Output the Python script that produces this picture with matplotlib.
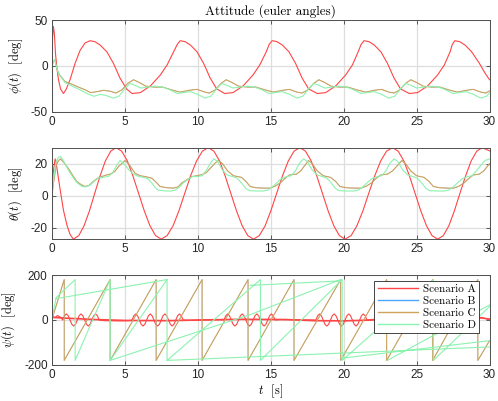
import numpy as np
import matplotlib
matplotlib.use("Agg")
import matplotlib.pyplot as plt

plt.rcParams['mathtext.fontset'] = 'cm'
plt.rcParams['axes.unicode_minus'] = False

# ---- roll phi(t) [deg] ----
phi_a_t = [0, 0.05, 0.11, 0.18, 0.25, 0.35, 0.46, 0.6, 0.8, 1.0, 1.25, 1.6, 1.94, 2.28, 2.62,
           2.95, 3.31, 3.77, 4.22, 4.67, 5.12, 5.5,
           6.07, 6.76, 7.44, 7.9, 8.35, 8.6, 8.8,
           9.13, 9.5, 9.95, 10.4, 10.85, 11.3, 11.85,
           12.42, 13.11, 13.79, 14.25, 14.7, 14.9, 15.1,
           15.43, 15.8, 16.25, 16.7, 17.15, 17.6, 18.2,
           18.77, 19.46, 20.14, 20.6, 21.0, 21.2, 21.4,
           21.73, 22.1, 22.55, 23.0, 23.45, 23.9, 24.5,
           25.07, 25.76, 26.44, 26.9, 27.3, 27.45, 27.62,
           27.95, 28.32, 28.77, 29.3, 29.7, 30.0]
phi_a = [0, 30, 43, 35, 14, -2, -15, -25, -30, -25, -15, 3, 17, 25, 27.5,
         26.5, 22.8, 15.5, 3, -13, -25, -30,
         -29, -21.7, -9.8, 1, 15.5, 23.5, 27.5,
         26.5, 22.8, 15.5, 3, -13, -25, -30,
         -29, -21.7, -9.8, 1, 15.5, 23.5, 27.5,
         26.5, 22.8, 15.5, 3, -13, -25, -30,
         -29, -21.7, -9.8, 1, 15.5, 23.5, 27.5,
         26.5, 22.8, 15.5, 3, -13, -25, -30,
         -29, -21.7, -9.8, 1, 15.5, 23.5, 27.5,
         26.5, 22.8, 15.5, 3, -8, -15]

phi_c_t = [0, 0.12, 0.22, 0.34, 0.5, 0.91, 1.4, 1.82, 2.3, 2.65, 3.1, 3.55, 4.0, 4.4, 4.8, 5.2,
           5.6, 6.0, 6.45, 7.0, 7.6, 8.2, 8.8, 9.4, 9.95, 10.5, 10.8, 11.2, 11.6,
           11.95, 12.35, 12.8, 13.4, 14.0, 14.6, 15.2, 15.8, 16.3, 16.8, 17.15, 17.55, 17.95,
           18.3, 18.7, 19.15, 19.7, 20.3, 20.9, 21.5, 22.1, 22.6, 23.1, 23.45, 23.85, 24.25,
           24.6, 25.0, 25.45, 26.0, 26.6, 27.2, 27.8, 28.4, 28.9, 29.4, 29.75, 30.0]
phi_c = [0, 5, 7, -3, -9, -17, -20, -23, -26, -29, -28, -26.5, -27.5, -29.5, -26, -19,
         -15, -18, -22, -23, -23, -26, -28.5, -26.5, -25.5, -28.5, -29.5, -26, -19,
         -15, -18, -22, -23, -23, -26, -28.5, -26.5, -25.5, -28.5, -29.5, -26, -19,
         -15, -18, -22, -23, -23, -26, -28.5, -26.5, -25.5, -28.5, -29.5, -26, -19,
         -15, -18, -22, -23, -23, -26, -28.5, -26.5, -25.5, -28.5, -29.5, -27]

phi_d_t = [0, 0.12, 0.2, 0.3, 0.45, 0.9, 1.4, 1.94, 2.4, 2.9, 3.3, 3.7, 4.2, 4.6, 5.0,
           5.35, 5.7, 6.1, 6.6, 7.1, 7.6, 8.1, 8.6, 9.0, 9.5, 10.0, 10.5, 10.9, 11.3,
           11.65, 12.0, 12.4, 12.9, 13.4, 13.9, 14.4, 14.9, 15.3, 15.8, 16.3, 16.8, 17.2, 17.6,
           17.95, 18.3, 18.7, 19.2, 19.7, 20.2, 20.7, 21.2, 21.6, 22.1, 22.6, 23.1, 23.5, 23.9,
           24.25, 24.6, 25.0, 25.5, 26.0, 26.5, 27.0, 27.5, 27.9, 28.4, 28.9, 29.4, 29.8, 30.0]
phi_d = [0, 5, 7, 0, -8, -18, -22, -26, -30, -33, -31, -32, -35, -33, -25,
         -19, -21, -24, -23, -22, -23, -26, -30, -29, -28, -31, -35, -33, -25,
         -19, -21, -24, -23, -22, -23, -26, -30, -29, -28, -31, -35, -33, -25,
         -19, -21, -24, -23, -22, -23, -26, -30, -29, -28, -31, -35, -33, -25,
         -19, -21, -24, -23, -22, -23, -26, -30, -29, -28, -31, -35, -33, -29]

# ---- pitch theta(t) [deg] ----
theta_a_t = [0, 0.1, 0.23, 0.34, 0.57, 0.8, 1.03, 1.25, 1.48,
             1.85, 2.21, 2.58, 2.94, 3.31, 3.67, 4.04, 4.4,
             4.79, 5.18, 5.56, 5.95, 6.34, 6.73, 7.11, 7.5,
             7.9, 8.31, 8.71, 9.11, 9.51, 9.92, 10.32, 10.72,
             11.11, 11.5, 11.88, 12.27, 12.66, 13.05, 13.43, 13.82,
             14.22, 14.62, 15.01, 15.41, 15.81, 16.21, 16.6, 17.0,
             17.39, 17.78, 18.16, 18.55, 18.94, 19.33, 19.71, 20.1,
             20.51, 20.91, 21.32, 21.72, 22.13, 22.54, 22.94, 23.35,
             23.74, 24.13, 24.51, 24.9, 25.29, 25.68, 26.06, 26.45,
             26.83, 27.21, 27.59, 27.97, 28.36, 28.74, 29.12, 29.5, 30.0]
theta_a = [3.75, 15, 23, 18, 4, -9, -18, -24, -27,
           -24.8, -18.7, -9.4, 1.5, 12.4, 21.7, 27.8, 30,
           27.8, 21.7, 12.4, 1.5, -9.4, -18.7, -24.8, -27,
           -24.8, -18.7, -9.4, 1.5, 12.4, 21.7, 27.8, 30,
           27.8, 21.7, 12.4, 1.5, -9.4, -18.7, -24.8, -27,
           -24.8, -18.7, -9.4, 1.5, 12.4, 21.7, 27.8, 30,
           27.8, 21.7, 12.4, 1.5, -9.4, -18.7, -24.8, -27,
           -24.8, -18.7, -9.4, 1.5, 12.4, 21.7, 27.8, 30,
           27.8, 21.7, 12.4, 1.5, -9.4, -18.7, -24.8, -27,
           -24.8, -18.7, -9.4, 1.5, 12.4, 21.7, 27.8, 30, 28]

theta_c_t = [0, 0.15, 0.3, 0.46, 0.6, 0.8, 1.14, 1.45, 1.71, 2.0, 2.28, 2.55, 2.85, 3.15, 3.43,
             3.75, 4.0, 4.3, 4.6, 5.02, 5.3, 5.71, 6.05, 6.4, 6.85, 7.15, 7.42, 7.9, 8.33,
             8.65, 8.9, 9.25, 9.6, 9.95, 10.3, 10.6, 10.9, 11.2, 11.42, 11.7, 12.05, 12.45,
             13.0, 13.3, 13.6, 14.0, 14.5, 14.96, 15.3, 15.65, 16.0, 16.3, 16.76, 17.05,
             17.35, 17.59, 17.85, 18.2, 18.6, 19.1, 19.45, 19.75, 20.2, 20.7, 21.2, 21.55,
             21.9, 22.25, 22.55, 23.0, 23.35, 23.7, 23.99, 24.25, 24.6, 25.0, 25.5, 25.85,
             26.15, 26.6, 27.1, 27.55, 27.9, 28.25, 28.6, 28.9, 29.3, 29.6, 30.0]
theta_c = [0, 10, 19, 22, 23, 21, 17, 12.5, 9, 7, 5.8, 6.5, 9, 11, 12,
           13, 13.5, 15, 18.5, 22, 19.5, 14, 12.5, 12, 11, 8.5, 5.8, 5, 4.8,
           5.5, 7.9, 10, 12, 12.5, 13.2, 14.5, 17.5, 20.5, 22, 20, 15.5, 12.5,
           11.5, 9, 5.8, 5, 4.8, 4.8, 6, 8, 11, 13, 13.5, 15.5,
           19, 22, 20, 15.5, 12.5, 11.5, 9, 5.8, 5, 4.8, 4.8, 6,
           8, 11, 13, 13.5, 15.5, 19, 22, 20, 15.5, 12.5, 11.5, 9,
           5.8, 5, 4.8, 4.8, 6, 8, 11, 13, 13.5, 15.5, 20]

theta_d_t = [0, 0.12, 0.28, 0.45, 0.6, 0.85, 1.14, 1.45, 1.75, 2.05, 2.3, 2.6, 2.9, 3.2, 3.5,
             3.85, 4.15, 4.45, 4.68, 4.95, 5.3, 5.6, 5.95, 6.3, 6.6, 6.85, 7.1, 7.3, 7.8,
             8.2, 8.45, 8.75, 9.0, 9.3, 9.65, 10.0, 10.3, 10.6, 10.85, 11.1, 11.35, 11.7,
             12.0, 12.4, 12.7, 13.0, 13.3, 13.55, 14.0, 14.5, 14.8, 15.1, 15.4, 15.7, 16.1,
             16.4, 16.7, 16.95, 17.25, 17.5, 17.85, 18.2, 18.55, 18.85, 19.15, 19.45, 19.7,
             20.2, 20.7, 21.0, 21.3, 21.6, 21.9, 22.3, 22.6, 22.9, 23.15, 23.45, 23.7, 24.05,
             24.4, 24.75, 25.05, 25.35, 25.65, 25.9, 26.4, 26.9, 27.2, 27.5, 27.8, 28.1,
             28.5, 28.8, 29.1, 29.4, 29.7, 30.0]
theta_d = [0, 10, 21, 24, 24.5, 21, 16, 11.5, 8, 6, 5.5, 6.5, 9, 11, 11.5,
           12, 14, 19, 22, 20, 16, 13.5, 12, 11.5, 10.5, 8, 5, 3.5, 3,
           3, 3.5, 5.5, 7.9, 10, 12, 12, 12.5, 16, 20, 23, 21.5, 16,
           13, 12, 11, 8, 4.5, 3.2, 3, 3, 3.5, 5.5, 8, 10.5, 12,
           12.5, 15.5, 20, 23, 21.5, 16, 13, 12, 11, 8, 4.5, 3.2,
           3, 3, 3.5, 5.5, 8, 10.5, 12, 12.5, 15.5, 20, 23, 21.5, 16,
           13, 12, 11, 8, 4.5, 3.2, 3, 3, 3.5, 5.5, 8, 10.5,
           12, 12.5, 15.5, 19, 22, 23]

# ---- yaw psi(t) [deg] ----
psi_a_t = [0, 0.2, 0.4, 0.6,
           0.75, 0.875, 1.0, 1.125, 1.25, 1.375, 1.5, 1.625, 1.75, 1.875, 2.0, 2.125,
           2.25, 2.375, 2.5, 2.625, 2.75, 2.875, 3.0, 3.125, 3.25,
           3.6, 4.5, 5.3,
           5.5, 5.625, 5.75, 5.875, 6.0, 6.125, 6.25, 6.375, 6.5, 6.625, 6.75, 6.875,
           7.0, 7.125, 7.25, 7.375, 7.5, 7.625, 7.75, 7.875, 8.0, 8.125, 8.25, 8.375,
           8.5, 8.625, 8.75, 8.875, 9.0,
           9.4, 10.5, 11.6,
           11.8, 11.925, 12.05, 12.175, 12.3, 12.425, 12.55, 12.675, 12.8, 12.925, 13.05,
           13.175, 13.3, 13.425, 13.55, 13.675, 13.8, 13.925, 14.05, 14.175, 14.3, 14.425,
           14.55, 14.675, 14.8, 14.925, 15.05, 15.175, 15.3,
           15.7, 17.0, 17.9,
           18.1, 18.225, 18.35, 18.475, 18.6, 18.725, 18.85, 18.975, 19.1, 19.225, 19.35,
           19.475, 19.6, 19.725, 19.85, 19.975, 20.1, 20.225, 20.35, 20.475, 20.6, 20.725,
           20.85, 20.975, 21.1, 21.225, 21.35, 21.475, 21.6,
           22.0, 23.2, 24.2,
           24.4, 24.525, 24.65, 24.775, 24.9, 25.025, 25.15, 25.275, 25.4, 25.525, 25.65,
           25.775, 25.9, 26.025, 26.15, 26.275, 26.4, 26.525, 26.65, 26.775, 26.9, 27.025,
           27.15, 27.275, 27.4, 27.525, 27.65, 27.775, 27.9,
           28.3, 29.2, 30.0]
psi_a = [18, 10, 20, 12,
         0, 19, 27, 19, 0, -19, -27, -19, 0, 19, 27, 19,
         0, -19, -27, -19, 0, 19, 27, 19, 0,
         -3, -4, -3,
         0, 19, 27, 19, 0, -19, -27, -19, 0, 19, 27, 19,
         0, -19, -27, -19, 0, 19, 27, 19, 0, -19, -27, -19,
         0, 19, 27, 19, 0,
         -2, 0, 1,
         0, 19, 27, 19, 0, -19, -27, -19, 0, 19, 27,
         19, 0, -19, -27, -19, 0, 19, 27, 19, 0, -19,
         -27, -19, 0, 19, 27, 19, 0,
         2, 1, 0,
         0, 19, 27, 19, 0, -19, -27, -19, 0, 19, 27,
         19, 0, -19, -27, -19, 0, 19, 27, 19, 0, -19,
         -27, -19, 0, 19, 27, 19, 0,
         3, 5, 6,
         6, 25, 33, 25, 6, -13, -21, -13, 6, 25, 33,
         25, 6, -13, -21, -13, 6, 25, 33, 25, 6, -13,
         -21, -13, 6, 25, 33, 25, 6,
         8, 10, 5]
psi_a2_t = [0, 1, 3, 5, 8, 10, 13, 16, 18, 20, 22, 25, 28, 29.5, 30]
psi_a2 = [12, 8, 2, -2, -3, 0, 3, 2, -3, -4, 0, 6, 12, 10, 2]

psi_c_t = [0, 0.85, 0.85, 4.0, 4.0, 7.15, 7.15, 10.3, 10.3, 13.45, 13.45, 16.6, 16.6,
           19.8, 19.8, 22.95, 22.95, 26.1, 26.1, 29.2, 29.2, 30.0]
psi_c = [0, 180, -180, 180, -180, 180, -180, 180, -180, 180, -180, 180, -180,
         180, -180, 180, -180, 180, -180, 180, -180, -92]

psi_d_t = [0, 0.3, 1.6, 1.6, 4.0, 4.0, 7.9, 7.9, 14.3, 14.3, 19.9, 19.9, 26.15, 26.15, 30.0,
           np.nan, 0.3, 7.9, np.nan, 4.0, 13.6, 19.8, np.nan, 7.9, 30.0,
           np.nan, 13.6, 19.7, np.nan, 19.9, 30.0, np.nan, 23.0, 30.0]
psi_d = [0, 100, 180, -180, 180, -180, 180, -180, 180, -180, 180, -180, 180, -180, 60,
         np.nan, 95, 180, np.nan, -180, 24, 180, np.nan, -180, -120,
         np.nan, 154, 174, np.nan, -170, -92, np.nan, -180, 67]

# scenario B coincides with C
phi_b_t, phi_b = phi_c_t, phi_c
theta_b_t, theta_b = theta_c_t, theta_c
psi_b_t, psi_b = psi_c_t, psi_c

labels = ['Scenario A', 'Scenario B', 'Scenario C', 'Scenario D']
colors = ['#ff4545', '#4da6ff', '#cfa35a', '#8cf2b0']

serif = 'cmr10'
tick_font = 'Liberation Sans'

fig = plt.figure(figsize=(4.98, 4.01), dpi=100)
ax1 = fig.add_axes([0.104, 0.721, 0.879, 0.229])
ax2 = fig.add_axes([0.104, 0.404, 0.879, 0.227])
ax3 = fig.add_axes([0.104, 0.090, 0.879, 0.224])

lw = 0.8
lwb = 0.3  # B is hidden under C
ax1.plot(phi_a_t, phi_a, color=colors[0], lw=lw)
ax1.plot(phi_b_t, phi_b, color=colors[1], lw=lwb)
ax1.plot(phi_c_t, phi_c, color=colors[2], lw=lw)
ax1.plot(phi_d_t, phi_d, color=colors[3], lw=lw)

ax2.plot(theta_a_t, theta_a, color=colors[0], lw=lw)
ax2.plot(theta_b_t, theta_b, color=colors[1], lw=lwb)
ax2.plot(theta_c_t, theta_c, color=colors[2], lw=lw)
ax2.plot(theta_d_t, theta_d, color=colors[3], lw=lw)

la, = ax3.plot(psi_a_t, psi_a, color=colors[0], lw=lw)
ax3.plot(psi_a2_t, psi_a2, color=colors[0], lw=1.2)
lb, = ax3.plot(psi_b_t, psi_b, color=colors[1], lw=lwb)
lc, = ax3.plot(psi_c_t, psi_c, color=colors[2], lw=lw)
ld, = ax3.plot(psi_d_t, psi_d, color=colors[3], lw=lw)

ax1.set_ylim(-50, 50)
ax1.set_yticks([-50, 0, 50])
ax2.set_ylim(-26.9, 29.8)
ax2.set_yticks([-20, 0, 20])
ax3.set_ylim(-200, 200)
ax3.set_yticks([-200, 0, 200])

ax1.set_ylabel(r'$\phi(t)$  [deg]', family=serif, fontsize=9)
ax2.set_ylabel(r'$\theta(t)$  [deg]', family=serif, fontsize=9)
ax3.set_ylabel(r'$\psi(t)$  [deg]', family=serif, fontsize=9)
ax3.set_xlabel(r'$t$  [s]', family=serif, fontsize=9, labelpad=1)
ax1.set_title('Attitude (euler angles)', family=serif, fontsize=9.5, pad=4)

for ax in (ax1, ax2, ax3):
    ax.set_xlim(0, 30)
    ax.set_xticks([0, 5, 10, 15, 20, 25, 30])
    ax.grid(True, color='#dedede', lw=0.9)
    ax.set_axisbelow(True)
    ax.tick_params(direction='in', length=3, width=0.6, top=True, right=True,
                   colors='#404040', labelsize=8.5, pad=3)
    for lab in ax.get_xticklabels() + ax.get_yticklabels():
        lab.set_family(tick_font)
        lab.set_color('#262626')
    for sp in ax.spines.values():
        sp.set_color('#505050')
        sp.set_linewidth(0.7)

leg = ax3.legend([la, lb, lc, ld], labels, loc='upper right', bbox_to_anchor=(0.977, 0.935),
                 borderaxespad=0, fancybox=False, framealpha=1, edgecolor='#262626',
                 prop={'family': serif, 'size': 8}, handlelength=3.6, handletextpad=0.5,
                 labelspacing=0.2, borderpad=0.3)
leg.get_frame().set_linewidth(0.6)
for h in leg.legend_handles:
    h.set_linewidth(1.0)

fig.savefig('out.png', dpi=100)
